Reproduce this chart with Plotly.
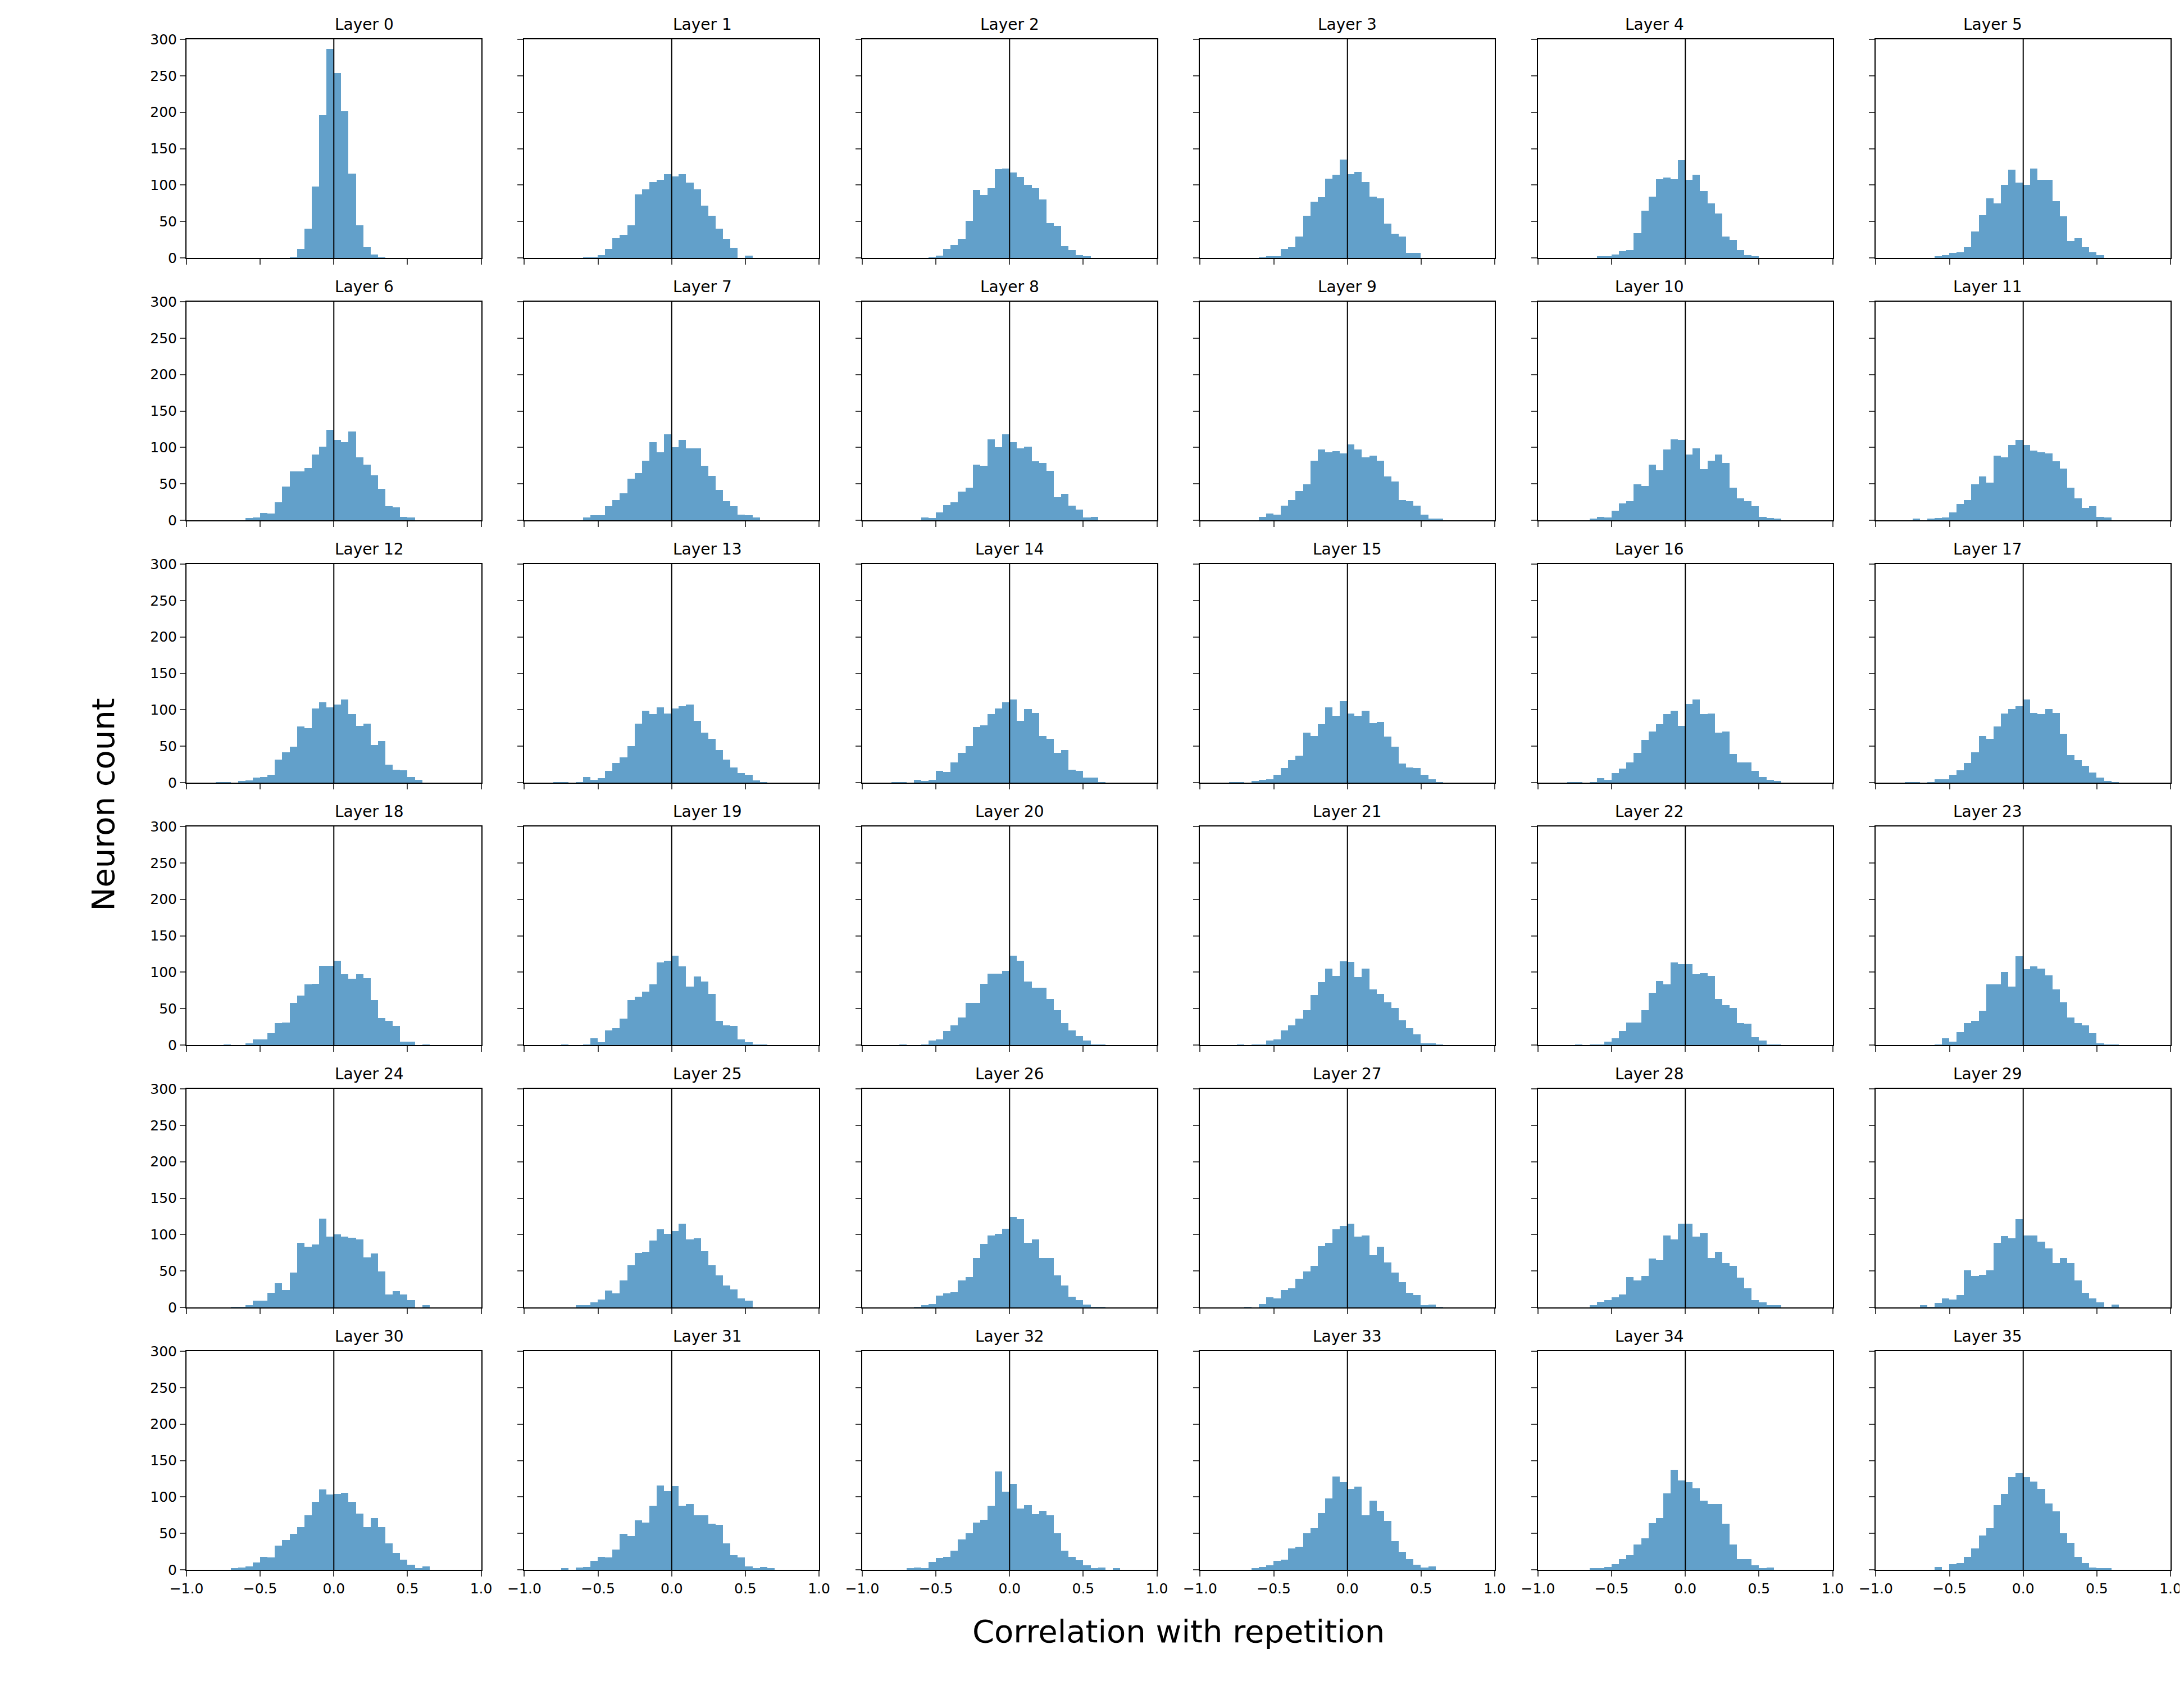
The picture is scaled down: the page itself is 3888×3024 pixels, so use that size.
import plotly.graph_objects as go
from plotly.subplots import make_subplots

# histogram bin width (correlation units) and left edge of the first bin, per layer
bin_width = 0.05
bin_start = [
    -0.30, -0.60, -0.55, -0.60, -0.60, -0.60,
    -0.60, -0.60, -0.60, -0.60, -0.65, -0.75,
    -0.80, -0.80, -0.80, -0.80, -0.80, -0.80,
    -0.75, -0.75, -0.75, -0.75, -0.75, -0.60,
    -0.70, -0.65, -0.65, -0.70, -0.65, -0.70,
    -0.70, -0.75, -0.70, -0.65, -0.65, -0.60,
]

# neuron counts per bin, per layer
counts = [
    [1, 12, 40, 98, 196, 287, 254, 201, 116, 45, 15, 5, 1],
    [1, 1, 4, 12, 27, 32, 45, 87, 94, 104, 107, 115, 112, 115, 103, 94, 72, 58, 40, 26, 14, 0, 3],
    [1, 3, 12, 18, 26, 51, 93, 86, 96, 122, 123, 117, 111, 100, 96, 80, 48, 44, 16, 11, 4, 2],
    [1, 2, 2, 12, 15, 29, 58, 77, 83, 109, 114, 135, 115, 118, 104, 84, 82, 47, 33, 29, 7, 7],
    [2, 2, 5, 9, 11, 34, 65, 84, 108, 110, 108, 134, 107, 114, 92, 75, 61, 29, 25, 11, 4, 2],
    [2, 4, 7, 8, 15, 36, 59, 82, 75, 100, 121, 103, 100, 123, 107, 107, 78, 57, 23, 27, 15, 8, 4],
    [3, 4, 10, 9, 25, 46, 67, 67, 72, 90, 101, 124, 110, 107, 122, 86, 76, 62, 43, 19, 18, 5, 4],
    [4, 7, 7, 19, 28, 37, 57, 65, 82, 107, 93, 118, 100, 110, 99, 99, 75, 61, 42, 26, 19, 8, 7, 4],
    [4, 3, 11, 21, 25, 39, 45, 76, 75, 111, 100, 118, 107, 99, 101, 81, 79, 68, 32, 36, 20, 15, 4, 5],
    [5, 9, 8, 20, 28, 40, 49, 82, 97, 93, 95, 92, 104, 97, 86, 89, 82, 60, 53, 28, 26, 20, 8, 2, 2],
    [2, 5, 4, 13, 23, 26, 49, 47, 76, 69, 97, 111, 110, 90, 99, 70, 82, 90, 79, 45, 30, 26, 19, 5, 3, 2],
    [2, 0, 2, 3, 4, 11, 22, 28, 49, 60, 52, 89, 86, 103, 110, 103, 96, 93, 92, 81, 71, 45, 30, 17, 19, 5, 4],
    [1, 1, 0, 2, 3, 7, 8, 11, 32, 42, 49, 77, 75, 102, 110, 103, 107, 114, 94, 78, 81, 52, 57, 25, 18, 17, 8, 4],
    [1, 1, 0, 1, 8, 4, 6, 16, 27, 35, 50, 81, 99, 94, 103, 95, 102, 105, 107, 85, 69, 60, 45, 32, 21, 13, 11, 3, 1],
    [1, 1, 0, 4, 2, 4, 16, 15, 28, 41, 50, 76, 79, 94, 102, 110, 114, 85, 101, 96, 64, 60, 41, 45, 18, 16, 7, 7, 1],
    [1, 1, 0, 2, 4, 5, 11, 20, 31, 37, 69, 64, 80, 103, 92, 112, 95, 92, 99, 82, 83, 63, 49, 26, 21, 20, 11, 5, 1],
    [1, 1, 0, 1, 6, 4, 13, 19, 28, 41, 59, 70, 80, 94, 99, 78, 108, 114, 94, 95, 69, 70, 39, 28, 28, 16, 8, 4, 2],
    [1, 1, 0, 1, 5, 5, 11, 17, 27, 42, 64, 60, 77, 95, 101, 105, 114, 96, 94, 101, 96, 67, 38, 31, 23, 14, 7, 2, 1],
    [1, 0, 0, 2, 8, 8, 16, 30, 31, 58, 68, 83, 84, 109, 109, 116, 97, 91, 97, 92, 62, 37, 33, 26, 5, 5, 0, 1],
    [1, 0, 0, 1, 9, 4, 20, 23, 36, 62, 66, 73, 83, 113, 116, 123, 108, 80, 94, 87, 70, 33, 27, 26, 8, 4, 1, 1],
    [1, 0, 0, 1, 6, 8, 19, 27, 38, 58, 58, 84, 98, 98, 102, 123, 116, 87, 79, 79, 63, 48, 30, 20, 12, 6, 1, 1],
    [1, 0, 1, 1, 6, 8, 20, 27, 36, 48, 69, 86, 105, 95, 115, 114, 93, 105, 76, 70, 59, 51, 34, 23, 15, 2, 2, 1],
    [1, 0, 1, 1, 5, 9, 19, 31, 31, 48, 72, 88, 83, 113, 111, 111, 97, 99, 95, 63, 55, 51, 30, 29, 11, 6, 1, 1],
    [1, 9, 5, 18, 30, 33, 47, 83, 83, 100, 80, 122, 104, 108, 105, 96, 76, 59, 38, 30, 27, 16, 2, 1, 1],
    [1, 1, 3, 9, 9, 20, 33, 24, 48, 89, 83, 86, 122, 97, 100, 97, 96, 93, 69, 74, 49, 18, 22, 18, 10, 0, 3],
    [3, 3, 7, 11, 23, 19, 37, 58, 75, 76, 92, 107, 101, 105, 115, 93, 95, 77, 58, 44, 30, 25, 12, 9],
    [1, 3, 5, 16, 19, 21, 37, 42, 68, 87, 99, 101, 108, 124, 121, 89, 93, 68, 68, 44, 30, 15, 10, 4, 1, 1],
    [1, 0, 5, 14, 12, 24, 26, 39, 49, 57, 84, 89, 107, 112, 115, 97, 99, 72, 83, 62, 48, 35, 20, 17, 3, 4, 1],
    [3, 8, 10, 14, 18, 42, 37, 43, 67, 65, 99, 93, 115, 115, 97, 102, 68, 76, 61, 57, 41, 26, 10, 7, 3, 3],
    [3, 1, 6, 12, 11, 17, 51, 43, 45, 51, 89, 98, 95, 121, 99, 99, 90, 81, 61, 68, 61, 37, 20, 12, 7, 1, 4],
    [2, 3, 5, 10, 18, 17, 33, 41, 49, 59, 75, 93, 110, 103, 104, 106, 93, 77, 59, 71, 59, 36, 23, 14, 7, 2, 5],
    [2, 0, 3, 4, 12, 18, 17, 28, 49, 46, 68, 65, 88, 116, 108, 115, 88, 90, 75, 75, 63, 62, 36, 20, 17, 5, 2, 4, 2],
    [2, 3, 2, 11, 16, 18, 26, 42, 50, 65, 69, 88, 135, 107, 118, 84, 89, 76, 81, 75, 50, 26, 18, 13, 6, 2, 3, 0, 2],
    [2, 4, 6, 12, 14, 29, 32, 50, 57, 78, 98, 128, 120, 111, 114, 75, 95, 81, 67, 39, 25, 15, 7, 3, 5],
    [2, 2, 4, 8, 15, 20, 35, 43, 64, 71, 105, 137, 123, 120, 112, 95, 90, 90, 63, 35, 15, 15, 6, 2, 3],
    [4, 0, 8, 9, 18, 29, 47, 57, 89, 104, 127, 133, 127, 121, 111, 91, 80, 50, 37, 18, 9, 3, 2, 2],
]

W, H = 3888, 3024
bar_color = "rgba(31,119,180,0.7)"

fig = make_subplots(rows=6, cols=6, horizontal_spacing=77 / 3534, vertical_spacing=78 / 2724)

for i, (start, c) in enumerate(zip(bin_start, counts)):
    r, col = i // 6 + 1, i % 6 + 1
    centers = [start + (k + 0.5) * bin_width for k in range(len(c))]
    fig.add_trace(go.Bar(x=centers, y=c, width=bin_width, marker_color=bar_color,
                         marker_line_width=0, showlegend=False), row=r, col=col)
    fig.add_vline(x=0, line_width=2, line_color="black", row=r, col=col)
    fig.update_xaxes(showticklabels=(r == 6), row=r, col=col)
    fig.update_yaxes(showticklabels=(col == 1), row=r, col=col)

fig.update_xaxes(range=[-1, 1], tickmode="array", tickvals=[-1, -0.5, 0, 0.5, 1],
                 ticktext=["\u22121.0", "\u22120.5", "0.0", "0.5", "1.0"],
                 showline=True, mirror=True, linecolor="black", linewidth=2,
                 ticks="outside", ticklen=10, tickwidth=2, showgrid=False, zeroline=False,
                 tickfont=dict(size=25, color="black"))
fig.update_yaxes(range=[0, 300], tickmode="linear", tick0=0, dtick=50,
                 showline=True, mirror=True, linecolor="black", linewidth=2,
                 ticks="outside", ticklen=10, tickwidth=2, showgrid=False, zeroline=False,
                 tickfont=dict(size=25, color="black"))

# panel titles
for i in range(36):
    xa = fig.layout["xaxis" if i == 0 else f"xaxis{i + 1}"]
    ya = fig.layout["yaxis" if i == 0 else f"yaxis{i + 1}"]
    fig.add_annotation(text=f"Layer {i}", xref="paper", yref="paper",
                       x=(xa.domain[0] + xa.domain[1]) / 2, y=ya.domain[1],
                       yanchor="bottom", yshift=8, showarrow=False,
                       font=dict(size=28, color="black"))

fig.add_annotation(text="Correlation with repetition", xref="paper", yref="paper",
                   x=0.5, y=0, yanchor="top", yshift=-75, showarrow=False,
                   font=dict(size=56, color="black"))
fig.add_annotation(text="Neuron count", xref="paper", yref="paper",
                   x=0, xanchor="right", xshift=-115, y=0.5, textangle=-90, showarrow=False,
                   font=dict(size=56, color="black"))

fig.update_layout(width=W, height=H, bargap=0,
                  margin=dict(l=324, r=30, t=62, b=238),
                  paper_bgcolor="white", plot_bgcolor="white",
                  font=dict(family="DejaVu Sans", color="black"))

fig.write_html("out.html")
